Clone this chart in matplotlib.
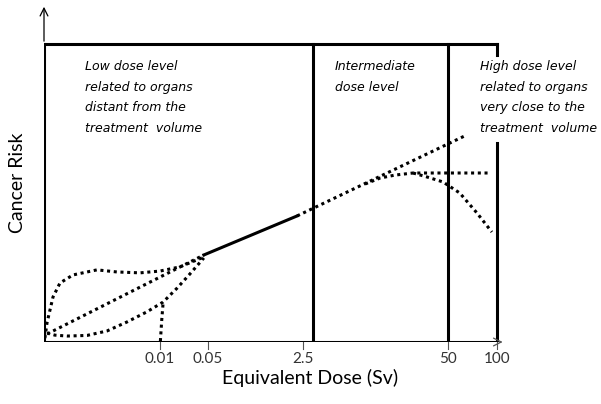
import numpy as np
import matplotlib.pyplot as plt

# schematic units: x 0..100 (100 = "100 Sv" tick), y 0..100 (100 = top of box)
tick_pos = [25.6, 36.2, 57.2, 89.2, 100]
tick_labels = ['0.01', '0.05', '2.5', '50', '100']
region_lines = [59.4, 89.2]

# shared linear part (solid) and its dotted extension
lin_solid_x = [35.3, 55.9]
lin_solid_y = [29.2, 42.3]
lin_high_x = [55.9, 93.4]
lin_high_y = [42.3, 69.5]
lin_low_x = [0.7, 35.3]
lin_low_y = [2.7, 29.2]

# low dose: supralinear, sublinear and threshold
supra_x = [0.2, 0.66, 1.99, 3.53, 6.4, 11.7, 16.1, 21.2, 25.6, 30.0, 35.3]
supra_y = [1.3, 6.4, 15.1, 19.8, 22.5, 24.2, 23.5, 23.2, 23.8, 25.2, 28.5]
sub_x = [0.66, 2.4, 5.1, 9.5, 13.9, 18.3, 22.7, 26.3, 29.4, 32.2, 35.3]
sub_y = [3.0, 2.3, 2.0, 2.2, 3.7, 6.7, 10.1, 13.4, 18.1, 22.8, 28.2]
thresh_x = [25.7, 26.0, 26.3]
thresh_y = [0.3, 7.4, 13.1]

# high dose: plateau and fall-off
plateau_x = [70.9, 74.2, 77.5, 81.5, 89.0, 98.5]
plateau_y = [53.0, 55.0, 56.0, 56.7, 56.7, 56.7]
fall_x = [81.5, 84.5, 88.1, 91.8, 95.6, 98.9]
fall_y = [56.7, 55.4, 53.7, 50.0, 43.3, 36.9]

low_text = 'Low dose level\nrelated to organs\ndistant from the\ntreatment  volume'
mid_text = 'Intermediate\ndose level'
high_text = 'High dose level\nrelated to organs\nvery close to the\ntreatment  volume'

fig = plt.figure(figsize=(6.01, 4.04), dpi=100)
ax = fig.add_axes([44/601, 62/404, 461/601, 338/404])
ax.set_xlim(0, 101.8)
ax.set_ylim(0, 113.4)
ax.axis('off')

lw = 2.2
dot = dict(color='black', lw=lw, linestyle=(0, (1, 1.2)), dash_capstyle='butt', solid_capstyle='butt')

# box and axes
ax.plot([0, 100], [0, 0], color='black', lw=lw, solid_capstyle='projecting')
ax.plot([0, 0], [0, 100], color='black', lw=lw, solid_capstyle='projecting')
ax.plot([0, 100], [100, 100], color='black', lw=lw, solid_capstyle='projecting')
ax.plot([100, 100], [96.3, 100], color='black', lw=lw)
ax.plot([100, 100], [0, 66.8], color='black', lw=lw)
for xv in region_lines:
    ax.plot([xv, xv], [0, 100], color='black', lw=lw)

ax.annotate('', xy=(0, 113.4), xytext=(0, 100),
            arrowprops=dict(arrowstyle='->', lw=0.9, color='black', mutation_scale=14))
ax.annotate('', xy=(101.9, 0), xytext=(100, 0),
            arrowprops=dict(arrowstyle='->', lw=0.9, color='#555555', mutation_scale=14))

# ticks
for xp, lab in zip(tick_pos, tick_labels):
    ax.plot([xp, xp], [0, -2.2], color='#555555', lw=0.8, clip_on=False)
    ax.text(xp, -3.5, lab, ha='center', va='top', fontsize=11, family='Lato',
            color='#333333')

# curves
ax.plot(lin_solid_x, lin_solid_y, color='black', lw=lw)
ax.plot(lin_high_x, lin_high_y, **dot)
ax.plot(lin_low_x, lin_low_y, **dot)
ax.plot(supra_x, supra_y, **dot)
ax.plot(sub_x, sub_y, **dot)
ax.plot(thresh_x, thresh_y, **dot)
ax.plot(plateau_x, plateau_y, **dot)
ax.plot(fall_x, fall_y, **dot)

# region labels
tkw = dict(ha='left', va='top', fontsize=9, style='italic', family='DejaVu Sans',
           linespacing=1.75)
ax.text(9.05, 94.5, low_text, **tkw)
ax.text(64.2, 94.5, mid_text, **tkw)
ax.text(96.2, 94.5, high_text, **tkw)

fig.text(310/601, 1 - 378/404, 'Equivalent Dose (Sv)', ha='center', va='center',
         fontsize=14, family='Lato')
fig.text(18/601, 1 - 183/404, 'Cancer Risk', ha='center', va='center',
         rotation=90, fontsize=14, family='Lato')

fig.savefig('out.png', dpi=100)
